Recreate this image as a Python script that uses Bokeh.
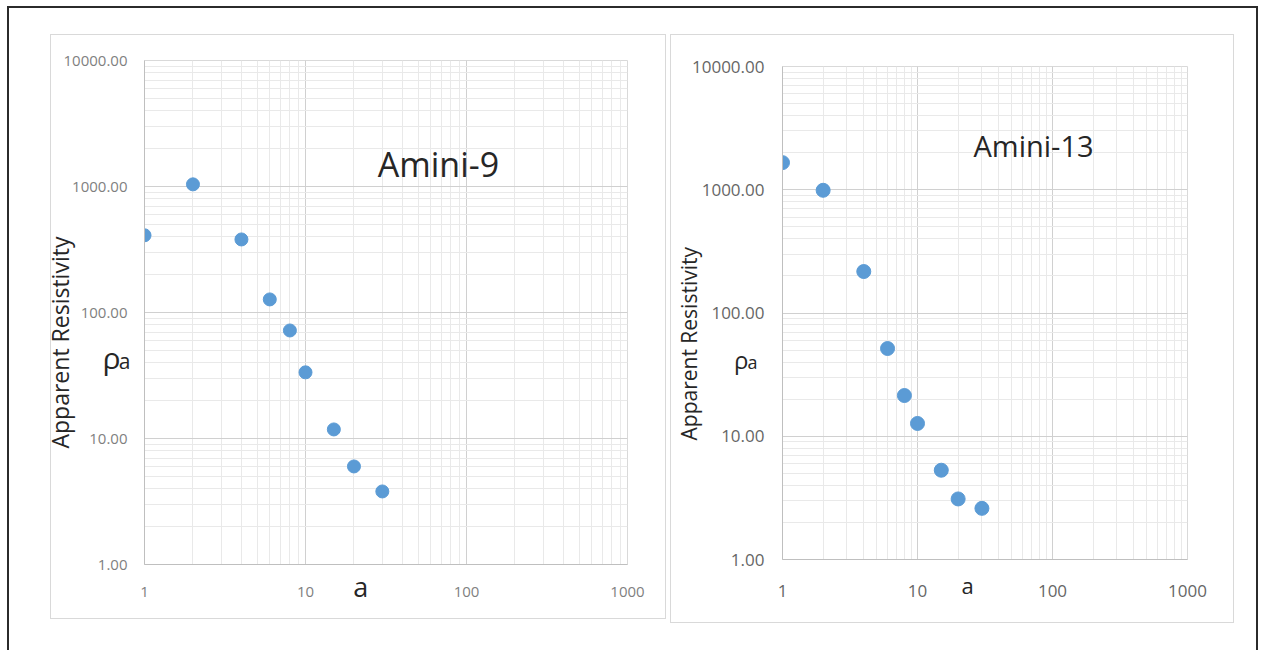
from bokeh.plotting import figure
from bokeh.layouts import row, column
from bokeh.models import (FixedTicker, PrintfTickFormatter, Label, Range1d, LogAxis,
                          Title, CustomJSTickFormatter)
from bokeh.embed import file_html
from bokeh.resources import INLINE

# ---- data ----
spacing_a = [1, 2, 4, 6, 8, 10, 15, 20, 30]
rho_amini9 = [410, 1040, 380, 127, 72, 33.5, 11.8, 6.0, 3.8]
rho_amini13 = [1660, 990, 217, 51.5, 21.4, 12.7, 5.3, 3.1, 2.6]
x_ticks = [1, 10, 100, 1000]
y_ticks = [1, 10, 100, 1000, 10000]
titles = ["Amini-9", "Amini-13"]
y_title = "Apparent Resistivity"

x_minor = [m * 10 ** k for k in range(0, 3) for m in range(2, 10)]
y_minor = [m * 10 ** k for k in range(0, 4) for m in range(2, 10)]

FONT = "Open Sans"
BLUE = "#5B9BD5"
INK = "#262626"


def bare(ax):
    ax.major_tick_line_color = None
    ax.minor_tick_line_color = None
    ax.major_tick_out = 0
    ax.minor_tick_out = 0
    ax.major_tick_in = 0
    ax.minor_tick_in = 0
    ax.major_label_text_font = FONT


def text_axis(pos, text, size, standoff):
    ax = LogAxis(ticker=FixedTicker(ticks=[pos], minor_ticks=[]),
                 formatter=CustomJSTickFormatter(args=dict(t=text), code="return t"),
                 major_label_standoff=standoff, axis_line_color=None)
    bare(ax)
    ax.major_label_text_font_size = f"{size}px"
    ax.major_label_text_color = INK
    return ax


def lines_css(segs):
    # segs: (x, y, w, h, color) decorative frame lines behind the canvas
    return ", ".join(f"linear-gradient({c},{c}) {x}px {y}px / {w}px {h}px no-repeat"
                     for x, y, w, h, c in segs)


def make_panel(x, y, title, cfg):
    fw, fh, bl, br, bt, bb = cfg["frame"]
    p = figure(x_axis_type="log", y_axis_type="log",
               x_range=Range1d(1, 1000), y_range=Range1d(1, 10000),
               frame_width=fw, frame_height=fh,
               min_border_left=bl, min_border_right=br,
               min_border_top=bt, min_border_bottom=bb,
               output_backend="svg", toolbar_location=None,
               background_fill_color="white", border_fill_color=None)
    p.outline_line_color = "#d9d9d9"

    # innermost y axis: the small "a" of rho_a
    ya = p.yaxis[0]
    ya.ticker = FixedTicker(ticks=[cfg["a_y"]], minor_ticks=[])
    ya.formatter = CustomJSTickFormatter(args=dict(t="a"), code="return t")
    bare(ya)
    ya.axis_line_color = "#bfbfbf"
    ya.major_label_standoff = cfg["a_stand"]
    ya.major_label_text_font_size = f"{cfg['a_size']}px"
    ya.major_label_text_color = INK
    # rho
    p.add_layout(text_axis(cfg["rho_y"], "ρ", cfg["rho_size"], cfg["rho_stand"]), "left")
    # tick labels
    yt = LogAxis(ticker=FixedTicker(ticks=y_ticks, minor_ticks=[]),
                 formatter=PrintfTickFormatter(format="%.2f"),
                 major_label_standoff=cfg["yt_stand"], axis_line_color=None)
    bare(yt)
    yt.major_label_text_font_size = f"{cfg['tick_size']}px"
    yt.major_label_text_color = cfg["tick_color"]
    p.add_layout(yt, "left")
    p.add_layout(Title(text=y_title, align="left", offset=cfg["yl_offset"],
                       vertical_align="middle", standoff=cfg["yl_stand"],
                       text_font=FONT, text_font_size=f"{cfg['yl_size']}px",
                       text_font_style="normal", text_color=INK), "left")

    # x axis tick labels
    xt = p.xaxis[0]
    xt.ticker = FixedTicker(ticks=x_ticks, minor_ticks=[])
    xt.formatter = PrintfTickFormatter(format="%d")
    bare(xt)
    xt.axis_line_color = "#bfbfbf"
    xt.major_label_standoff = cfg["xt_stand"]
    xt.major_label_text_font_size = f"{cfg['tick_size']}px"
    xt.major_label_text_color = cfg["tick_color"]
    # x axis name "a"
    p.add_layout(text_axis(cfg["xa_x"], "a", cfg["xa_size"], cfg["xa_stand"]), "below")

    p.xgrid[0].ticker = FixedTicker(ticks=x_ticks, minor_ticks=x_minor)
    p.ygrid[0].ticker = FixedTicker(ticks=y_ticks, minor_ticks=y_minor)
    for g in (p.xgrid[0], p.ygrid[0]):
        g.grid_line_color = "#d0d0d0"
        g.minor_grid_line_color = "#e9e9e9"

    p.scatter(x, y, size=cfg["marker"], color=BLUE, line_color=BLUE)

    tx, ty, ts = cfg["title_pos"]
    p.add_layout(Label(x=tx, y=ty, x_units="screen", y_units="screen",
                       text=title, text_font=FONT, text_font_size=f"{ts}px",
                       text_color=INK, text_align="center", text_baseline="alphabetic"))
    p.styles = {"background": lines_css(cfg["css"])}
    return p


DARK = "#2b2b2b"
LIGHT = "#d9d9d9"

left = make_panel(spacing_a, rho_amini9, titles[0], dict(
    frame=(483, 504, 144, 40, 60, 86),
    a_y=41.2, a_size=21, a_stand=14,
    rho_y=43.7, rho_size=30, rho_stand=-5,
    yt_stand=-28, tick_size=15, tick_color="#7f7f7f",
    yl_offset=116, yl_stand=-32, yl_size=23,
    xt_stand=22, xa_x=22, xa_size=27, xa_stand=-32,
    marker=13, title_pos=(294, 401, 34),
    css=[(7, 6, 2, 700, DARK), (7, 6, 700, 2, DARK),
         (50, 34, 616, 1, LIGHT), (50, 618, 616, 1, LIGHT),
         (50, 34, 1, 585, LIGHT), (665, 34, 1, 585, LIGHT)]))

right = make_panel(spacing_a, rho_amini13, titles[1], dict(
    frame=(405, 493, 115, 76, 66, 91),
    a_y=40.0, a_size=18, a_stand=25,
    rho_y=41.6, rho_size=24, rho_stand=-4,
    yt_stand=-33, tick_size=17, tick_color="#666666",
    yl_offset=119, yl_stand=-30, yl_size=21,
    xt_stand=25, xa_x=23.5, xa_size=22, xa_stand=-30,
    marker=14, title_pos=(251, 414, 29),
    css=[(0, 6, 591, 2, DARK), (589, 6, 2, 700, DARK),
         (3, 34, 564, 1, LIGHT), (3, 622, 564, 1, LIGHT),
         (3, 34, 1, 589, LIGHT), (566, 34, 1, 589, LIGHT)]))

layout = row(column(left), column(right), spacing=0)
open("out.html", "w").write(file_html(layout, INLINE))
